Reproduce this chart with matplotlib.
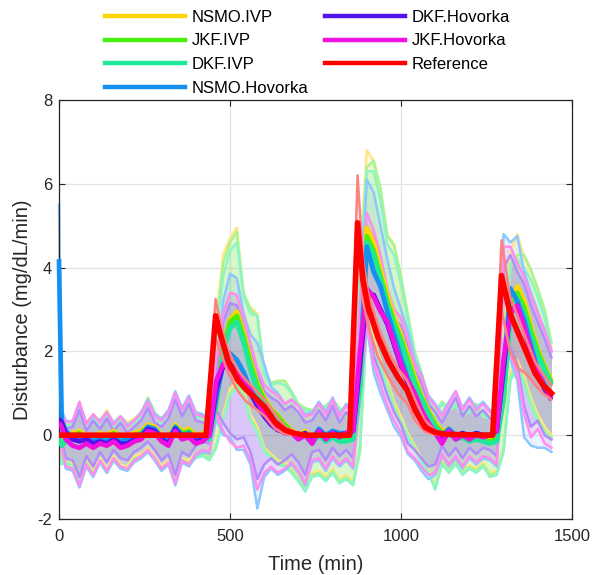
import numpy as np
import matplotlib
matplotlib.use('Agg')
import matplotlib.pyplot as plt
from matplotlib.lines import Line2D

plt.rcParams['font.family'] = ['Liberation Sans', 'DejaVu Sans']
plt.rcParams['axes.unicode_minus'] = False

# time grid of the estimates (min)
t = np.r_[0, 8, np.arange(20, 1441, 20)]

# reference disturbance, own knots
ref_t = [0, 430, 458, 471, 494, 523, 548, 573, 602, 632, 661, 690, 720,
         850, 873, 889, 904, 933, 962, 991, 1018, 1041, 1070, 1099, 1130,
         1268, 1294, 1319, 1343, 1368, 1392, 1415, 1440]
ref = [0, 0, 2.85, 2.43, 1.79, 1.31, 1.08, 0.90, 0.67, 0.31, 0.12, 0.04, 0.0,
       0.0, 5.07, 3.69, 3.05, 2.33, 1.79, 1.38, 1.07, 0.60, 0.19, 0.07, 0.02,
       0.0, 3.81, 2.90, 2.43, 1.95, 1.48, 1.20, 1.00]
ref_hi = [0, 0, 3.25, 2.70, 2.05, 1.55, 1.30, 1.10, 0.85, 0.50, 0.20, 0.08, 0.0,
          0.0, 6.20, 4.20, 3.40, 2.60, 2.00, 1.60, 1.30, 0.85, 0.35, 0.12, 0.03,
          0.0, 4.65, 3.30, 2.80, 2.25, 1.75, 1.45, 1.20]
ref_lo = [0, 0, 2.30, 2.00, 1.50, 1.05, 0.80, 0.65, 0.45, 0.15, 0.03, 0.0, 0.0,
          0.0, 4.40, 3.20, 2.60, 1.86, 1.40, 1.00, 0.75, 0.35, 0.08, 0.02, 0.0,
          0.0, 3.00, 2.00, 1.60, 1.45, 1.20, 1.00, 0.85]

nsmo_ivp = [0.00, -0.15, -0.05, 0.05, 0.10, 0.00, -0.05, 0.05, 0.00, 0.10, -0.05, 0.00,
            0.05, 0.10, 0.25, 0.20, 0.00, -0.05, 0.25, 0.10, 0.15, 0.00, 0.05, 0.00,
            0.70, 2.10, 2.75, 2.95, 2.45, 1.80, 1.25, 0.90, 0.62, 0.47, 0.27, 0.12,
            0.00, 0.10, -0.10, 0.10, -0.05, 0.05, -0.05, -0.05, 0.00, 1.10, 4.95, 4.60,
            3.95, 3.35, 2.80, 2.40, 1.90, 1.40, 0.95, 0.60, 0.30, 0.10, 0.15, 0.00,
            0.05, -0.05, 0.00, -0.05, -0.10, -0.05, 0.90, 3.10, 3.55, 3.20, 2.60, 2.05, 1.65, 1.30]
nsmo_ivp_lo = [-0.30, -0.60, -0.55, -0.70, -1.05, -0.60, -0.85, -0.55, -0.80, -0.50, -0.70, -0.75,
               -0.50, -0.45, -0.30, -0.50, -0.75, -0.60, -1.05, -0.55, -0.60, -0.45, -0.40, -0.50,
               -0.20, 0.50, 1.10, 1.30, 1.10, 0.50, 0.20, -0.30, -0.45, -0.60, -0.65, -0.80,
               -1.00, -1.25, -0.90, -0.85, -1.00, -0.80, -1.05, -0.95, -1.10, -0.30, 2.90, 2.30,
               1.80, 1.30, 0.80, 0.45, 0.05, -0.25, -0.55, -0.80, -1.20, -0.60, -0.80, -0.60,
               -0.85, -0.70, -0.80, -0.65, -0.90, -0.85, -0.30, 1.50, 1.80, 1.40, 0.90, 0.50, 0.20, 0.00]
nsmo_ivp_hi = [0.30, 0.45, 0.30, 0.30, 0.75, 0.30, 0.50, 0.35, 0.60, 0.30, 0.45, 0.30,
               0.40, 0.55, 0.85, 0.50, 0.40, 0.55, 1.00, 0.60, 0.90, 0.55, 0.50, 0.30,
               2.80, 4.30, 4.70, 4.95, 3.30, 3.05, 2.90, 1.50, 1.20, 1.25, 1.30, 1.00,
               0.65, 0.60, 0.55, 0.60, 0.65, 0.80, 0.60, 0.45, 0.30, 4.20, 6.80, 6.55,
               5.80, 4.80, 4.50, 3.50, 2.75, 1.90, 1.45, 0.80, 0.50, 0.75, 0.60, 0.70,
               0.50, 0.55, 0.70, 0.45, 0.40, 0.30, 2.20, 4.40, 4.80, 4.25, 3.90, 3.40, 2.80, 2.10]

jkf_ivp = [0.00, -0.20, -0.10, 0.00, 0.05, -0.05, -0.10, 0.00, -0.05, 0.05, -0.10, -0.05,
           0.00, 0.05, 0.20, 0.15, -0.05, -0.10, 0.20, 0.05, 0.10, -0.05, 0.00, -0.05,
           0.80, 2.10, 2.70, 2.85, 2.35, 1.70, 1.20, 0.85, 0.60, 0.45, 0.25, 0.10,
           -0.05, 0.05, -0.15, 0.05, -0.10, 0.00, -0.10, -0.10, -0.05, 1.20, 4.75, 4.40,
           3.80, 3.20, 2.70, 2.30, 1.80, 1.30, 0.90, 0.55, 0.25, 0.05, 0.10, -0.05,
           0.00, -0.10, -0.05, -0.10, -0.15, -0.10, 0.90, 3.00, 3.40, 3.05, 2.50, 2.00, 1.60, 1.25]
jkf_ivp_lo = [-0.35, -0.65, -0.60, -0.75, -1.10, -0.65, -0.90, -0.60, -0.85, -0.55, -0.75, -0.80,
              -0.55, -0.50, -0.35, -0.55, -0.80, -0.65, -1.10, -0.60, -0.65, -0.50, -0.45, -0.55,
              -0.25, 0.40, 1.00, 1.20, 1.00, 0.40, 0.10, -0.35, -0.50, -0.65, -0.70, -0.85,
              -1.05, -1.30, -0.95, -0.90, -1.05, -0.85, -1.10, -1.00, -1.15, -0.35, 2.80, 2.20,
              1.70, 1.20, 0.70, 0.35, 0.00, -0.30, -0.60, -0.85, -1.25, -0.65, -0.85, -0.65,
              -0.90, -0.75, -0.85, -0.70, -0.95, -0.90, -0.35, 1.40, 1.70, 1.30, 0.80, 0.40, 0.10, -0.05]
jkf_ivp_hi = [0.25, 0.40, 0.25, 0.25, 0.70, 0.25, 0.45, 0.30, 0.55, 0.25, 0.40, 0.25,
              0.35, 0.50, 0.90, 0.55, 0.35, 0.50, 0.95, 0.55, 0.85, 0.50, 0.45, 0.25,
              2.60, 4.10, 4.60, 4.85, 3.40, 3.00, 2.85, 1.55, 1.25, 1.30, 1.30, 1.05,
              0.75, 0.65, 0.60, 0.65, 0.70, 0.85, 0.65, 0.50, 0.35, 4.00, 6.40, 6.55,
              5.90, 4.75, 4.55, 3.80, 2.90, 2.00, 1.50, 0.90, 0.55, 0.80, 0.65, 0.75,
              0.55, 0.60, 0.75, 0.50, 0.45, 0.35, 2.00, 4.00, 4.30, 4.30, 3.95, 3.50, 3.00, 2.20]

dkf_ivp = [0.00, -0.25, -0.15, -0.05, 0.00, -0.10, -0.15, -0.05, -0.10, 0.00, -0.15, -0.10,
           -0.05, 0.00, 0.15, 0.10, -0.10, -0.15, 0.15, 0.00, 0.05, -0.10, -0.05, -0.10,
           0.75, 1.95, 2.55, 2.70, 2.20, 1.55, 1.05, 0.75, 0.50, 0.35, 0.18, 0.08,
           -0.10, 0.00, -0.20, 0.00, -0.15, -0.05, -0.15, -0.15, -0.10, 1.15, 4.60, 4.30,
           3.70, 3.10, 2.60, 2.20, 1.70, 1.20, 0.85, 0.50, 0.20, 0.00, 0.05, -0.10,
           -0.05, -0.15, -0.10, -0.15, -0.20, -0.15, 0.85, 2.85, 3.25, 2.90, 2.35, 1.90, 1.55, 1.20]
dkf_ivp_lo = [-0.40, -0.70, -0.65, -0.80, -1.15, -0.70, -0.95, -0.65, -0.90, -0.60, -0.80, -0.85,
              -0.60, -0.55, -0.40, -0.60, -0.85, -0.70, -1.15, -0.65, -0.70, -0.55, -0.50, -0.60,
              -0.30, 0.35, 0.95, 1.10, 0.90, 0.35, 0.05, -0.40, -0.55, -0.70, -0.75, -0.90,
              -1.10, -1.35, -1.00, -0.95, -1.10, -0.90, -1.15, -1.05, -1.20, -0.40, 2.70, 2.10,
              1.60, 1.10, 0.60, 0.30, -0.05, -0.35, -0.65, -0.90, -1.30, -0.70, -0.90, -0.70,
              -0.95, -0.80, -0.90, -0.75, -1.00, -0.95, -0.40, 1.30, 1.60, 1.20, 0.70, 0.30, 0.05, -0.10]
dkf_ivp_hi = [0.25, 0.35, 0.20, 0.25, 0.65, 0.20, 0.40, 0.25, 0.50, 0.20, 0.35, 0.20,
              0.30, 0.45, 0.80, 0.45, 0.30, 0.45, 0.90, 0.50, 0.80, 0.45, 0.40, 0.25,
              2.40, 3.80, 4.40, 4.60, 3.30, 2.90, 2.85, 1.45, 1.20, 1.25, 1.20, 1.00,
              0.70, 0.60, 0.55, 0.60, 0.65, 0.80, 0.60, 0.45, 0.30, 3.80, 6.30, 6.30,
              5.60, 4.55, 4.30, 3.60, 2.75, 1.90, 1.40, 0.85, 0.50, 0.75, 0.60, 0.70,
              0.50, 0.55, 0.70, 0.45, 0.40, 0.30, 1.90, 4.10, 4.20, 4.00, 3.70, 3.30, 2.80, 2.00]

nsmo_hov = [4.20, 0.35, 0.10, -0.05, -0.10, -0.05, -0.15, -0.10, -0.15, -0.05, -0.15, -0.10,
            -0.05, 0.00, 0.20, 0.15, -0.05, -0.10, 0.20, 0.00, 0.05, -0.10, -0.05, 0.00,
            0.90, 1.70, 1.95, 1.80, 1.50, 1.10, 0.80, 0.50, 0.30, 0.15, 0.10, 0.05,
            0.00, 0.05, -0.10, 0.15, 0.00, 0.10, 0.05, 0.05, 0.10, 1.60, 4.50, 3.90,
            3.55, 2.95, 2.40, 1.85, 1.35, 0.95, 0.55, 0.25, 0.10, 0.00, 0.15, 0.00,
            0.05, 0.00, 0.05, 0.00, 0.00, 0.10, 1.50, 3.50, 3.20, 2.75, 2.15, 1.55, 1.20, 0.95]
nsmo_hov_lo = [3.00, -0.30, -0.80, -0.85, -1.25, -0.75, -1.00, -0.65, -0.90, -0.60, -0.80, -0.85,
               -0.65, -0.55, -0.40, -0.60, -0.85, -0.70, -1.20, -0.65, -0.75, -0.50, -0.40, -0.45,
               0.40, 0.00, -0.05, -0.35, -0.35, -0.70, -1.75, -1.00, -0.80, -0.95, -0.85, -0.70,
               -0.90, -1.20, -0.65, -0.60, -0.85, -0.55, -0.75, -0.60, -0.80, 0.80, 2.60, 1.50,
               1.00, 0.60, 0.20, -0.05, -0.45, -0.60, -0.85, -1.05, -0.95, -0.50, -0.75, -0.55,
               -0.80, -0.55, -0.70, -0.55, -0.60, -0.75, 2.20, 1.80, 1.30, -0.05, -0.25, -0.30, -0.30, -0.40]
nsmo_hov_hi = [5.50, 0.60, 0.35, 0.30, 0.75, 0.30, 0.45, 0.35, 0.55, 0.30, 0.45, 0.25,
               0.35, 0.55, 0.85, 0.50, 0.40, 0.60, 1.05, 0.65, 0.95, 0.55, 0.50, 0.40,
               1.60, 3.20, 3.85, 3.75, 2.90, 2.40, 2.20, 1.70, 1.15, 1.00, 0.75, 0.85,
               0.70, 0.50, 0.55, 0.80, 0.55, 0.90, 0.50, 0.75, 0.55, 2.80, 6.10, 5.80,
               5.00, 4.20, 3.50, 3.00, 2.50, 1.80, 1.45, 0.95, 0.75, 0.50, 0.80, 1.05,
               0.65, 0.90, 0.65, 0.80, 0.60, 0.50, 4.80, 4.60, 4.75, 3.90, 3.40, 2.95, 2.50, 2.00]

dkf_hov = [0.40, 0.30, 0.05, -0.10, -0.15, -0.10, -0.20, -0.15, -0.20, -0.10, -0.20, -0.20,
           -0.10, -0.05, 0.15, 0.10, -0.10, -0.20, 0.15, -0.05, 0.00, -0.15, -0.10, 0.00,
           1.10, 1.65, 1.70, 1.50, 1.30, 1.00, 0.70, 0.45, 0.25, 0.12, 0.08, 0.05,
           -0.05, 0.05, -0.15, 0.10, -0.05, 0.05, 0.00, 0.05, 0.10, 1.70, 3.30, 3.35,
           3.00, 2.65, 2.15, 1.65, 1.25, 0.95, 0.55, 0.25, 0.05, -0.10, 0.10, -0.05,
           0.05, -0.05, 0.05, 0.00, 0.00, 0.10, 1.60, 3.00, 3.05, 2.55, 1.95, 1.45, 1.10, 0.85]
dkf_hov_lo = [0.10, -0.15, -0.55, -0.60, -1.00, -0.50, -0.75, -0.40, -0.65, -0.35, -0.55, -0.60,
              -0.40, -0.30, -0.15, -0.35, -0.60, -0.45, -0.95, -0.40, -0.50, -0.25, -0.15, -0.20,
              0.60, 0.30, 0.05, -0.10, -0.05, -0.40, -1.05, -0.70, -0.55, -0.70, -0.60, -0.45,
              -0.65, -0.95, -0.40, -0.35, -0.60, -0.30, -0.50, -0.35, -0.55, 0.90, 2.90, 1.90,
              1.45, 0.95, 0.55, 0.25, -0.20, -0.35, -0.55, -0.75, -0.70, -0.25, -0.50, -0.30,
              -0.55, -0.30, -0.45, -0.30, -0.35, -0.50, 2.10, 2.10, 1.70, 0.70, 0.20, 0.35, 0.00, -0.10]
dkf_hov_hi = [0.50, 0.40, 0.15, 0.20, 0.60, 0.10, 0.35, 0.15, 0.40, 0.10, 0.30, 0.05,
              0.20, 0.35, 0.65, 0.30, 0.20, 0.40, 0.85, 0.45, 0.75, 0.35, 0.30, 0.25,
              1.50, 2.70, 3.15, 3.10, 2.60, 2.00, 1.45, 1.05, 0.90, 0.80, 0.60, 0.70,
              0.55, 0.30, 0.35, 0.60, 0.35, 0.70, 0.30, 0.55, 0.35, 2.80, 5.00, 4.70,
              4.10, 3.30, 2.80, 2.60, 2.10, 1.55, 1.25, 0.75, 0.55, 0.30, 0.60, 0.90,
              0.45, 0.70, 0.45, 0.60, 0.40, 0.30, 4.00, 4.30, 3.90, 3.60, 3.10, 2.70, 2.30, 1.85]

jkf_hov = [0.30, 0.20, -0.10, -0.25, -0.30, -0.20, -0.30, -0.20, -0.25, -0.15, -0.30, -0.25,
           -0.15, -0.10, 0.10, 0.05, -0.15, -0.25, 0.10, -0.10, -0.05, -0.20, -0.15, 0.00,
           1.30, 1.70, 1.60, 1.45, 1.35, 1.05, 0.80, 0.55, 0.30, 0.15, 0.05, 0.05,
           -0.10, 0.00, -0.20, 0.10, -0.10, 0.05, -0.05, 0.05, 0.10, 2.00, 3.50, 3.30,
           2.95, 2.70, 2.20, 1.70, 1.30, 1.00, 0.60, 0.30, 0.05, -0.20, 0.10, -0.10,
           0.00, -0.10, 0.00, -0.05, 0.00, 0.10, 1.80, 2.90, 3.10, 2.60, 2.00, 1.50, 1.15, 0.90]
jkf_hov_lo = [0.00, -0.30, -0.75, -0.80, -1.20, -0.70, -0.95, -0.60, -0.85, -0.55, -0.75, -0.80,
              -0.60, -0.50, -0.35, -0.55, -0.80, -0.65, -1.15, -0.60, -0.70, -0.45, -0.35, -0.40,
              0.50, 0.10, -0.15, -0.30, -0.25, -0.60, -1.30, -0.90, -0.75, -0.90, -0.80, -0.65,
              -0.85, -1.15, -0.60, -0.55, -0.80, -0.50, -0.70, -0.55, -0.75, 1.00, 2.70, 1.70,
              1.20, 0.70, 0.35, 0.05, -0.40, -0.55, -0.75, -0.95, -0.90, -0.45, -0.70, -0.50,
              -0.75, -0.50, -0.65, -0.50, -0.55, -0.70, 2.30, 1.90, 1.50, 0.50, -0.05, 0.15, -0.20, -0.30]
jkf_hov_hi = [0.60, 0.50, 0.30, 0.35, 0.80, 0.25, 0.50, 0.30, 0.55, 0.25, 0.45, 0.20,
              0.35, 0.50, 0.80, 0.45, 0.35, 0.55, 1.00, 0.60, 0.90, 0.50, 0.45, 0.40,
              1.80, 2.90, 3.40, 3.35, 2.80, 2.20, 1.60, 1.20, 1.05, 0.95, 0.75, 0.85,
              0.70, 0.45, 0.50, 0.75, 0.50, 0.85, 0.45, 0.70, 0.50, 3.20, 5.30, 4.90,
              4.30, 3.50, 3.00, 2.80, 2.30, 1.70, 1.40, 0.90, 0.70, 0.45, 0.75, 1.05,
              0.60, 0.85, 0.60, 0.75, 0.55, 0.45, 4.50, 4.50, 4.10, 3.80, 3.30, 2.90, 2.50, 2.00]

# name, mean, lower, upper, line colour, bound colour
estimators = [
    ('NSMO.IVP', nsmo_ivp, nsmo_ivp_lo, nsmo_ivp_hi, '#FFD700', '#FFE680'),
    ('JKF.IVP', jkf_ivp, jkf_ivp_lo, jkf_ivp_hi, '#4CEE10', '#A8F590'),
    ('DKF.IVP', dkf_ivp, dkf_ivp_lo, dkf_ivp_hi, '#1FE899', '#8CF5C8'),
    ('NSMO.Hovorka', nsmo_hov, nsmo_hov_lo, nsmo_hov_hi, '#1590F0', '#8CC8FF'),
    ('DKF.Hovorka', dkf_hov, dkf_hov_lo, dkf_hov_hi, '#5511EE', '#B28CFF'),
    ('JKF.Hovorka', jkf_hov, jkf_hov_lo, jkf_hov_hi, '#F010E0', '#FF8CEE'),
]

fig = plt.figure(figsize=(6.03, 5.75), dpi=100)
ax = fig.add_axes([0.0978, 0.0974, 0.8508, 0.7287])

# bands: fill + bound lines
for name, m, lo, hi, c, cb in estimators:
    ax.fill_between(t, lo, hi, color=c, alpha=0.10, linewidth=0)
    ax.plot(t, lo, color=cb, lw=1.8)
    ax.plot(t, hi, color=cb, lw=1.8, clip_on=(name != 'NSMO.Hovorka'))

# means (the NSMO.Hovorka start spike sits on the left spine, as in the original)
for name, m, lo, hi, c, cb in estimators:
    ax.plot(t, m, color=c, lw=3.4, solid_capstyle='butt',
            clip_on=(name != 'NSMO.Hovorka'), zorder=3)

ax.fill_between(ref_t, ref_lo, ref_hi, color='#FF0000', alpha=0.08, linewidth=0)
ax.plot(ref_t, ref_lo, color='#FF8080', lw=1.8, zorder=3)
ax.plot(ref_t, ref_hi, color='#FF8080', lw=1.8, zorder=3)
ax.plot(ref_t, ref, color='#FF0000', lw=4.0, zorder=3)

ax.set_xlim(0, 1500)
ax.set_ylim(-2, 8)
ax.set_xticks([0, 500, 1000, 1500])
ax.set_yticks([-2, 0, 2, 4, 6, 8])
ax.grid(True, color='#E3E3E3', linewidth=0.9)
ax.set_axisbelow(True)
ax.tick_params(direction='in', top=True, right=True, length=4, width=0.8,
               labelsize=12, colors='#262626')
ax.tick_params(axis='x', pad=7)
ax.tick_params(axis='y', pad=5)
for sp in ax.spines.values():
    sp.set_color('#262626')
    sp.set_linewidth(0.9)
ax.set_xlabel('Time (min)', fontsize=14.5, color='#262626', labelpad=8)
ax.set_ylabel('Disturbance (mg/dL/min)', fontsize=14.5, color='#262626')

handles = [Line2D([], [], color=e[4], lw=3.2) for e in estimators]
handles.append(Line2D([], [], color='#FF0000', lw=3.2))
labels = [e[0] for e in estimators] + ['Reference']
fig.legend(handles, labels, ncol=2, loc='upper left', bbox_to_anchor=(0.174, 0.983),
           frameon=False, fontsize=12, handlelength=4.8, handletextpad=0.4,
           columnspacing=1.0, labelspacing=0.52, borderpad=0, borderaxespad=0)

fig.savefig('out.png', dpi=100)
